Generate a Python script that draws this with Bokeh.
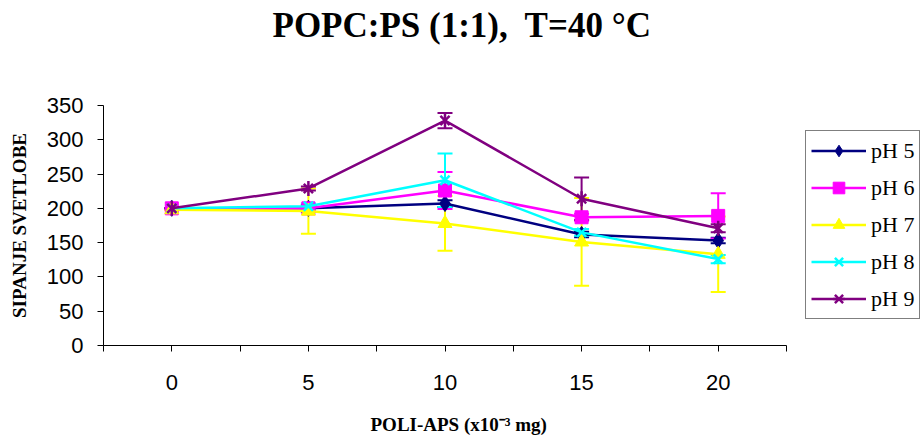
import numpy as np
from bokeh.plotting import figure
from bokeh.models import (Range1d, FixedTicker, Whisker, TeeHead, ColumnDataSource,
                          Legend, LegendItem, Title)
from bokeh.embed import file_html
from bokeh.resources import INLINE

# ---- data ----
x_vals = [0, 5, 10, 15, 20]
x_minor = [-2.5, 2.5, 7.5, 12.5, 17.5, 22.5]
y_ticks = [0, 50, 100, 150, 200, 250, 300, 350]
series_names = ["pH 5", "pH 6", "pH 7", "pH 8", "pH 9"]
ph5 = [200, 200, 207, 162, 153]
ph6 = [200, 200, 226, 187, 189]
ph7 = [198, 196, 178, 151, 133]
ph8 = [200, 203, 241, 165, 126]
ph9 = [200, 229, 328, 214, 171]
err5 = [0, 5, 5, 4, 4]
err6 = [0, 3, 27, 5, 33]
err7 = [0, 33, 40, 64, 55]
err8 = [0, 4, 39, 5, 6]
err9 = [0, 3, 11, 31, 6]

colors = ["#000080", "#FF00FF", "#FFFF00", "#00FFFF", "#800080"]
markers = ["diamond", "square", "triangle", "x", "x"]
values = [ph5, ph6, ph7, ph8, ph9]
errors = [err5, err6, err7, err8, err9]

# layout geometry (pixels)
W, H = 923, 435
left, axis_right, top, bottom = 103, 786, 105, 90
x_lo, x_hi = -2.5, 22.5
px_per_unit = (axis_right - left) / (x_hi - x_lo)
x_end = x_lo + (W - left) / px_per_unit   # frame extends to the right edge (legend area)

p = figure(width=W, height=H, output_backend="svg", toolbar_location=None,
           x_range=Range1d(x_lo, x_end), y_range=Range1d(0, 350),
           min_border_left=left, min_border_right=0, min_border_top=top,
           min_border_bottom=bottom, outline_line_color=None)
p.background_fill_color = "white"
p.border_fill_color = "white"
p.xgrid.visible = False
p.ygrid.visible = False

# chart title (spacer first so the title sits high in the top band)
spacer = Title(text="\u00a0", text_font_size="1px", standoff=58)
p.add_layout(spacer, "above")
title = Title(text="POPC:PS (1:1),\u00a0 T=40 \u00b0C", align="left",
              vertical_align="bottom",
              text_font="Liberation Serif", text_font_style="bold",
              text_font_size="35px", text_color="black", offset=169, standoff=0)
p.add_layout(title, "above")

# axes
xa = p.xaxis[0]
xa.ticker = FixedTicker(ticks=x_vals, minor_ticks=x_minor)
xa.bounds = (x_lo, x_hi)
ya = p.yaxis[0]
ya.ticker = FixedTicker(ticks=y_ticks)
ya.axis_label = "SIPANJE SVETLOBE"
for ax in (xa, ya):
    ax.axis_line_color = "black"
    ax.major_tick_line_color = "black"
    ax.major_tick_in = 0
    ax.major_tick_out = 6
    ax.major_label_text_font = "Liberation Sans"
    ax.major_label_text_font_size = "22px"
    ax.major_label_text_color = "black"
    ax.axis_label_text_font = "Liberation Serif"
    ax.axis_label_text_font_style = "bold"
    ax.axis_label_text_font_size = "19px"
    ax.axis_label_text_color = "black"
xa.minor_tick_line_color = "black"
xa.minor_tick_in = 0
xa.minor_tick_out = 6
ya.minor_tick_line_color = None
xa.major_label_standoff = 23
ya.major_label_standoff = 14
ya.axis_label_standoff = 14

# x axis title placed at the bottom of the lower band
bspacer = Title(text="\u00a0", text_font_size="1px", standoff=16)
p.add_layout(bspacer, "below")
xlabel = Title(text="POLI-APS (x10\u207b\u00b3 mg)", align="left",
               vertical_align="bottom", offset=267, standoff=0,
               text_font="Liberation Serif", text_font_style="bold",
               text_font_size="19px", text_color="black")
p.add_layout(xlabel, "below")

items = []
for name, col, mk, vals, errs in zip(series_names, colors, markers, values, errors):
    src = ColumnDataSource(dict(x=x_vals, y=vals,
                                upper=[v + e for v, e in zip(vals, errs)],
                                lower=[v - e for v, e in zip(vals, errs)]))
    w = Whisker(source=src, base="x", upper="upper", lower="lower",
                line_color=col, line_width=2,
                upper_head=TeeHead(size=15, line_color=col, line_width=2),
                lower_head=TeeHead(size=15, line_color=col, line_width=2))
    p.add_layout(w)
    ln = p.line("x", "y", source=src, line_color=col, line_width=2.5)
    rends = [ln]
    if mk in ("diamond", "square", "triangle"):
        sz = {"diamond": 16, "square": 13, "triangle": 14}[mk]
        sc = p.scatter("x", "y", source=src, marker=mk, size=sz,
                       fill_color=col, line_color=col, line_width=1)
        rends.append(sc)
    else:
        sc = p.scatter("x", "y", source=src, marker="x", size=13,
                       line_color=col, line_width=2.5)
        rends.append(sc)
        if name == "pH 9":
            sc2 = p.scatter("x", "y", source=src, marker="dash", size=15,
                            angle=np.pi / 2, line_color=col, line_width=2.5)
            rends.append(sc2)
    items.append(LegendItem(label=name, renderers=rends))

legend = Legend(items=items, location=(702, 26), margin=0, padding=5,
                spacing=8, glyph_width=55, glyph_height=29, label_height=29,
                label_standoff=5, label_text_font="Liberation Serif",
                label_text_font_size="22px", label_text_color="black",
                border_line_color="black", border_line_width=1,
                background_fill_color="white", background_fill_alpha=1)
p.add_layout(legend, "center")

open("out.html", "w").write(file_html(p, INLINE))
